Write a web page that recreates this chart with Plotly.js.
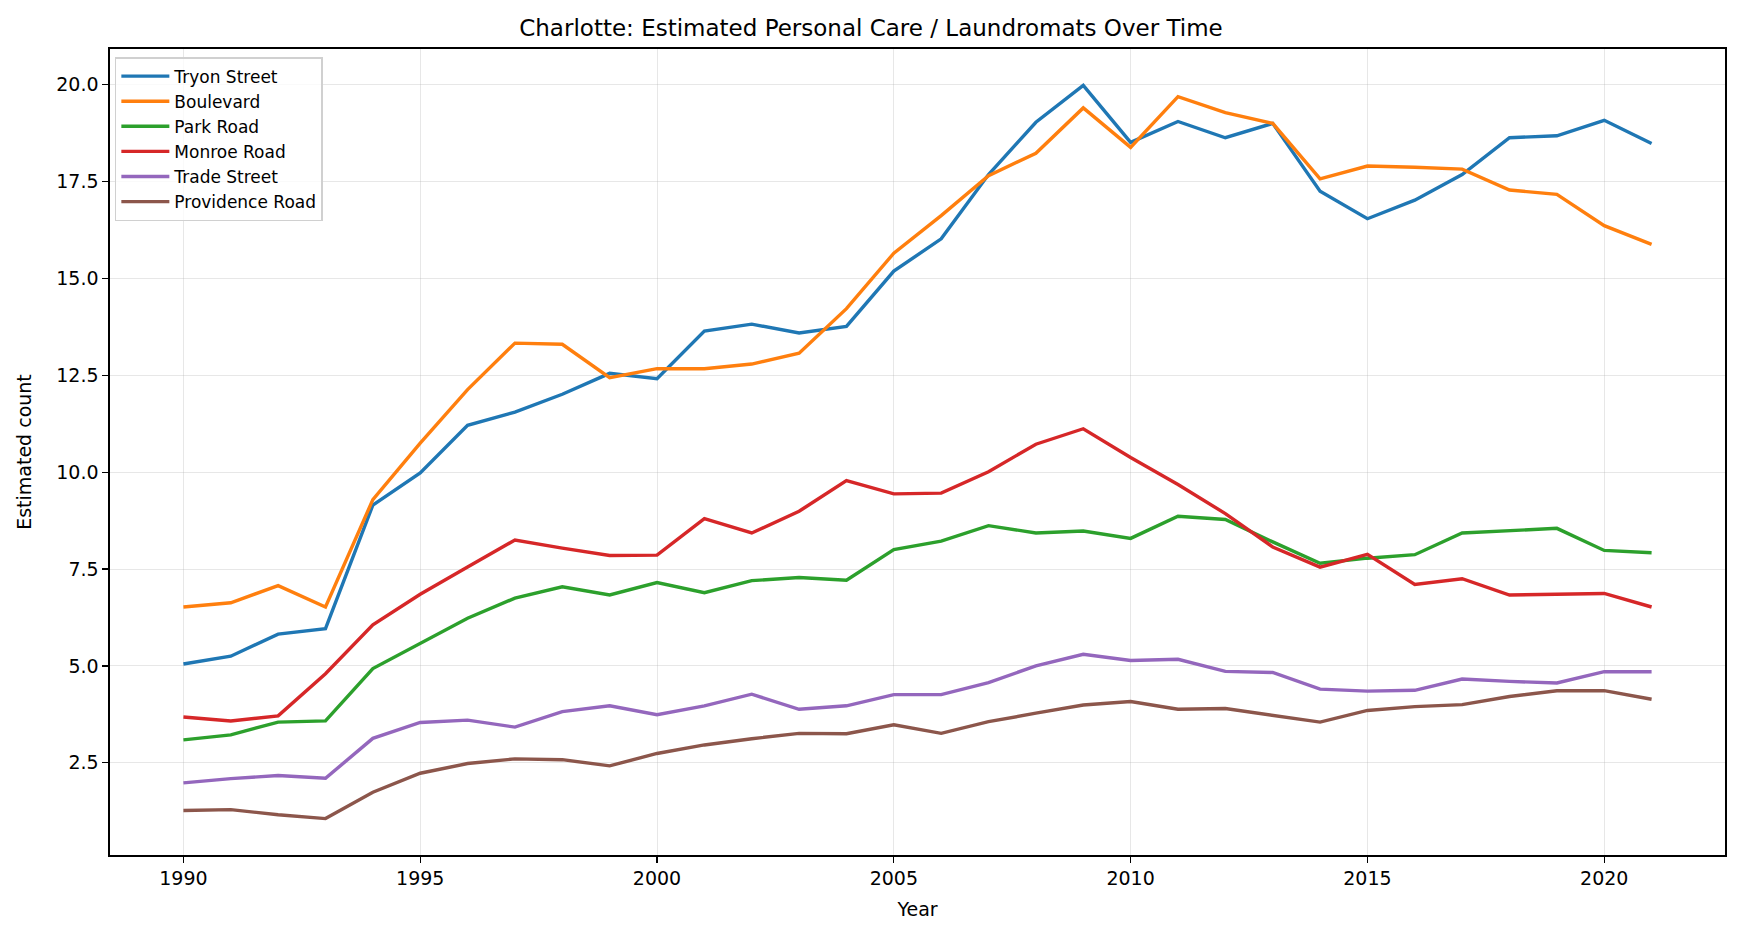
<!DOCTYPE html>
<html>
<head>
<meta charset="utf-8">
<script src="https://cdn.plot.ly/plotly-3.0.1.min.js"></script>
<style>
  html, body { margin: 0; padding: 0; background: #fff; }
  #chart { width: 1742px; height: 936px; }
</style>
</head>
<body>
<div id="chart"></div>
<script>
var years = [1990, 1991, 1992, 1993, 1994, 1995, 1996, 1997, 1998, 1999,
             2000, 2001, 2002, 2003, 2004, 2005, 2006, 2007, 2008, 2009,
             2010, 2011, 2012, 2013, 2014, 2015, 2016, 2017, 2018, 2019,
             2020, 2021];

var tryonStreet = [5.05, 5.25, 5.82, 5.96, 9.15, 9.98, 11.21, 11.55, 12.01, 12.55,
                   12.41, 13.64, 13.82, 13.59, 13.76, 15.19, 16.02, 17.68, 19.03, 19.98,
                   18.51, 19.05, 18.63, 19.0, 17.25, 16.54, 17.02, 17.68, 18.63, 18.68,
                   19.08, 18.48];
var boulevard = [6.52, 6.63, 7.07, 6.52, 9.29, 10.75, 12.13, 13.33, 13.3, 12.44,
                 12.67, 12.67, 12.79, 13.07, 14.22, 15.65, 16.62, 17.65, 18.23, 19.4,
                 18.38, 19.69, 19.28, 19.0, 17.57, 17.9, 17.87, 17.82, 17.28, 17.17,
                 16.36, 15.88];
var parkRoad = [3.09, 3.22, 3.55, 3.58, 4.93, 5.57, 6.23, 6.75, 7.04, 6.83,
                7.15, 6.89, 7.2, 7.28, 7.21, 8.0, 8.22, 8.62, 8.43, 8.48,
                8.29, 8.86, 8.78, 8.2, 7.65, 7.78, 7.87, 8.43, 8.5, 8.55,
                7.98, 7.92];
var monroeRoad = [3.68, 3.58, 3.71, 4.8, 6.06, 6.85, 7.55, 8.25, 8.04, 7.85,
                  7.86, 8.8, 8.43, 8.99, 9.78, 9.44, 9.46, 10.01, 10.72, 11.12,
                  10.38, 9.68, 8.93, 8.07, 7.55, 7.88, 7.1, 7.25, 6.83, 6.84,
                  6.87, 6.52];
var tradeStreet = [1.98, 2.09, 2.17, 2.1, 3.13, 3.54, 3.6, 3.42, 3.82, 3.97,
                   3.74, 3.97, 4.27, 3.88, 3.97, 4.26, 4.26, 4.57, 5.0, 5.3,
                   5.14, 5.17, 4.86, 4.83, 4.4, 4.35, 4.37, 4.66, 4.6, 4.56,
                   4.85, 4.85];
var providenceRoad = [1.27, 1.29, 1.16, 1.06, 1.74, 2.23, 2.48, 2.6, 2.58, 2.42,
                      2.74, 2.96, 3.12, 3.26, 3.25, 3.48, 3.26, 3.56, 3.78, 3.99,
                      4.08, 3.88, 3.9, 3.72, 3.55, 3.85, 3.95, 4.0, 4.21, 4.36,
                      4.36, 4.14];

var seriesNames = ['Tryon Street', 'Boulevard', 'Park Road', 'Monroe Road', 'Trade Street', 'Providence Road'];
var seriesValues = [tryonStreet, boulevard, parkRoad, monroeRoad, tradeStreet, providenceRoad];
var colors = ['#1f77b4', '#ff7f0e', '#2ca02c', '#d62728', '#9467bd', '#8c564b'];

var data = seriesNames.map(function (name, i) {
  return {
    x: years,
    y: seriesValues[i],
    type: 'scatter',
    mode: 'lines',
    name: name,
    line: { color: colors[i], width: 3.4 }
  };
});

var font = 'DejaVu Sans, sans-serif';

var layout = {
  width: 1742,
  height: 936,
  paper_bgcolor: '#fff',
  plot_bgcolor: '#fff',
  font: { family: font, size: 19, color: '#000' },
  margin: { l: 110, r: 17, t: 49, b: 81 },
  title: {
    text: 'Charlotte: Estimated Personal Care / Laundromats Over Time',
    font: { family: font, size: 23, color: '#000' },
    x: 0.5, xanchor: 'center', y: 0.97, yanchor: 'middle'
  },
  xaxis: {
    title: { text: 'Year', font: { size: 19 }, standoff: 14 },
    range: [1988.45, 2022.55],
    tickvals: [1990, 1995, 2000, 2005, 2010, 2015, 2020],
    ticks: 'outside', ticklen: 6, tickcolor: '#000', tickwidth: 1.3,
    showline: true, linecolor: '#000', linewidth: 1.6, mirror: true,
    showgrid: true, gridcolor: 'rgba(176,176,176,0.3)', gridwidth: 1,
    zeroline: false
  },
  yaxis: {
    title: { text: 'Estimated count', font: { size: 19 }, standoff: 19 },
    range: [0.12, 20.92],
    tickvals: [2.5, 5, 7.5, 10, 12.5, 15, 17.5, 20],
    tickformat: '.1f',
    ticks: 'outside', ticklen: 6, tickcolor: '#000', tickwidth: 1.3,
    showline: true, linecolor: '#000', linewidth: 1.6, mirror: true,
    showgrid: true, gridcolor: 'rgba(176,176,176,0.3)', gridwidth: 1,
    zeroline: false
  },
  legend: {
    x: 0.003, y: 0.99, xanchor: 'left', yanchor: 'top',
    bgcolor: 'rgba(255,255,255,0.8)',
    bordercolor: '#d0d0d0', borderwidth: 1.5,
    font: { family: font, size: 17, color: '#000' },
    itemwidth: 48,
    tracegroupgap: 0
  },
  showlegend: true
};

Plotly.newPlot('chart', data, layout, { displayModeBar: false, responsive: false, staticPlot: true });
</script>
</body>
</html>
